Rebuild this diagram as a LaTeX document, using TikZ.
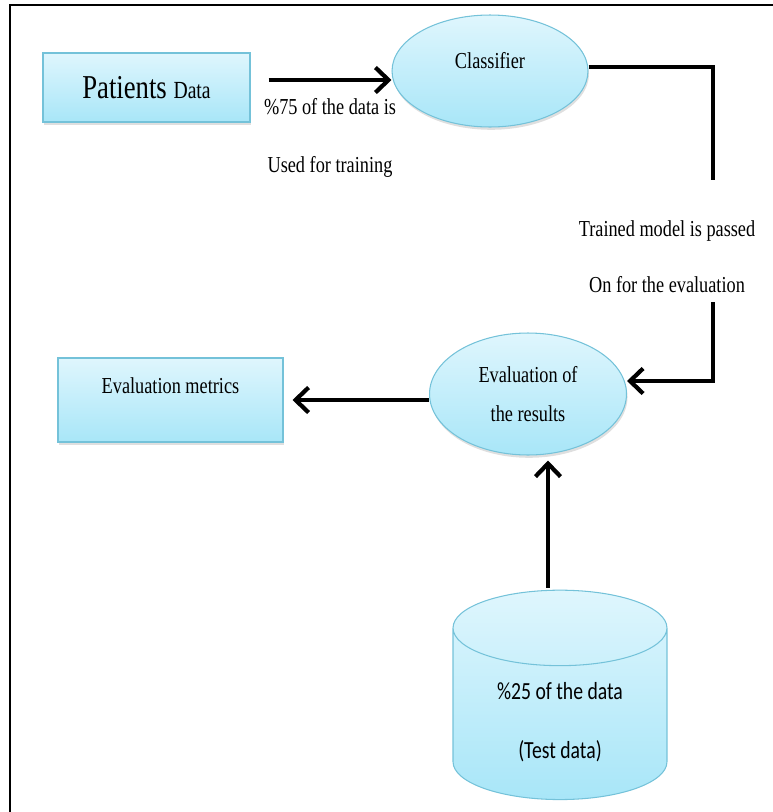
\documentclass[tikz,border=0pt]{standalone}
\usepackage{fontspec}
\setmainfont{Liberation Serif}
\newfontfamily\narrowserif[FakeStretch=0.8]{Liberation Serif}
\newfontfamily\narrowsans[FakeStretch=0.8]{Carlito}
\usetikzlibrary{shapes.geometric,arrows.meta,positioning,shadows}

\definecolor{boxtop}{HTML}{DFF6FD}
\definecolor{boxbottom}{HTML}{A8E6F8}
\definecolor{boxline}{HTML}{74C2D9}

\begin{document}
\begin{tikzpicture}[
    x=0.02cm, y=-0.02cm,
    block/.style={rectangle, draw=boxline, semithick, top color=boxtop, bottom color=boxbottom,
                  drop shadow={opacity=0.25, shadow xshift=0.6pt, shadow yshift=-1.6pt}},
    blob/.style={ellipse, draw=boxline, semithick, top color=boxtop, bottom color=boxbottom,
                 drop shadow={opacity=0.25, shadow xshift=0.6pt, shadow yshift=-1.6pt}, inner sep=0pt},
    store/.style={cylinder, shape border rotate=90, draw=boxline, semithick, aspect=0.6,
                  top color=boxtop, bottom color=boxbottom, inner sep=0pt},
    link/.style={line width=2.4pt, color=black},
    arrow/.style={link, -{Straight Barb[length=2.6mm, width=5mm, line width=2.4pt]}},
    note/.style={font=\narrowserif\fontsize{13}{15}\selectfont}
]
    % page and frame
    \useasboundingbox (0,0) rectangle (773,812);
    \draw[line width=1.4pt] (10,830) -- (10,5) -- (790,5);

    % Patients data (top left)
    \node[block, minimum width=4.14cm, minimum height=1.38cm, font=\narrowserif] (pat) at (146.5,87.5)
        {\fontsize{19}{21}\selectfont Patients \fontsize{14}{16}\selectfont Data};

    % Classifier (top)
    \node[blob, minimum width=3.92cm, minimum height=2.24cm, note, text height=0.35cm, text depth=0.47cm]
        (cls) at (490,71) {Classifier};

    % Evaluation of the results (middle)
    \node[blob, minimum width=3.94cm, minimum height=2.44cm, note, align=center]
        (evr) at (528,394) {Evaluation of\\[0.27cm]the results};

    % Evaluation metrics (left)
    \node[block, minimum width=4.5cm, minimum height=1.68cm, note, text height=0.35cm, text depth=0.63cm]
        (evm) at (170.5,400) {Evaluation metrics};

    % Test data (bottom)
    \node[store, minimum width=4.28cm, minimum height=4.02cm, align=center,
          font=\narrowsans\fontsize{14}{16}\selectfont]
        (cyl) at (560,714) {\\[0.1cm]\%25 of the data\\[0.62cm](Test data)};

    % passing note and its rail
    \node[note, align=center] (pass) at (667,257) {Trained model is passed\\[0.6cm]On for the evaluation};
    \coordinate (railtop) at (713,180);
    \coordinate (railbot) at (713,302);

    % connectors
    \draw[arrow] ([xshift=0.36cm, yshift=0.15cm]pat.east) -- ([yshift=0.15cm]pat.east -| cls.west)
        node[note, midway, yshift=-0.54cm] (train1) {\%75 of the data is}
        node[note, midway, yshift=-1.74cm] (train2) {Used for training};
    \draw[link] ([yshift=0.08cm]cls.east) -| (railtop);
    \draw[arrow] (railbot) |- ([yshift=0.26cm]evr.east);
    \draw[arrow] (evr.west |- evm.east) -- ([xshift=0.18cm]evm.east);
    \draw[arrow] ([xshift=-0.24cm, yshift=0.04cm]cyl.north) -- ([xshift=-0.24cm, yshift=-0.1cm]cyl.north |- evr.south);
\end{tikzpicture}
\end{document}
